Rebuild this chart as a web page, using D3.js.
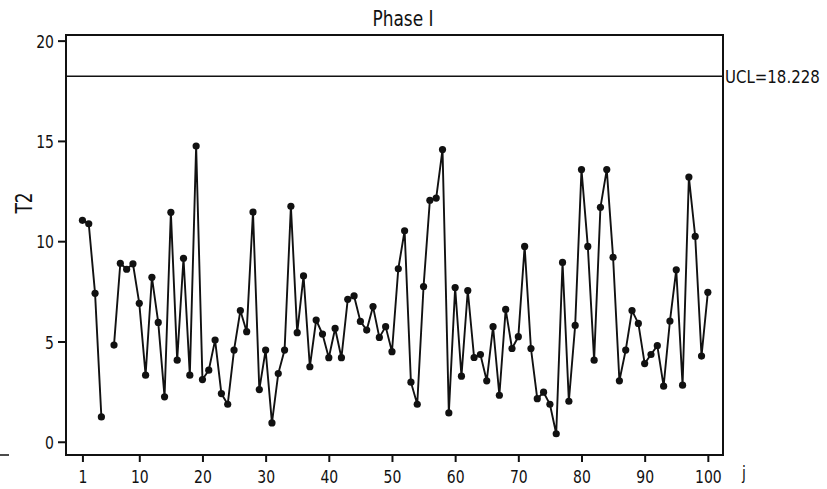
<!DOCTYPE html>
<html>
<head>
<meta charset="utf-8">
<script src="https://cdn.jsdelivr.net/npm/d3@7"></script>
<style>
    body { margin: 0; background: #fff; }
    text { font-family: "DejaVu Sans", Verdana, sans-serif; fill: #111; }
</style>
</head>
<body>
<script>
// observation number j
var obs = d3.range(1, 101);

// T2 statistic per observation (j=5 is missing in the chart)
var t2 = [11.04, 10.87, 7.40, 1.24, null, 4.82, 8.90, 8.60, 8.87, 6.90,
    3.32, 8.20, 5.95, 2.24, 11.44, 4.07, 9.15, 3.32, 14.74, 3.10,
    3.57, 5.07, 2.40, 1.87, 4.57, 6.54, 5.49, 11.45, 2.60, 4.57,
    0.94, 3.40, 4.57, 11.74, 5.44, 8.27, 3.74, 6.07, 5.37, 4.19,
    5.65, 4.19, 7.10, 7.27, 6.00, 5.57, 6.74, 5.20, 5.74, 4.49,
    8.62, 10.52, 2.97, 1.87, 7.74, 12.04, 12.15, 14.57, 1.44, 7.69,
    3.27, 7.54, 4.20, 4.35, 3.04, 5.74, 2.32, 6.60, 4.65, 5.24,
    9.74, 4.65, 2.15, 2.47, 1.87, 0.40, 8.94, 2.02, 5.80, 13.57,
    9.74, 4.07, 11.69, 13.57, 9.20, 3.04, 4.57, 6.54, 5.90, 3.90,
    4.35, 4.79, 2.77, 6.02, 8.57, 2.82, 13.20, 10.24, 4.27, 7.45];

// control limit
var ucl = 18.228;

// tick labels
var xTicks = [1, 10, 20, 30, 40, 50, 60, 70, 80, 90, 100];
var yTicks = [0, 5, 10, 15, 20];

function init() {
    var svg, g, xScale, yScale, xAxis, yAxis, line, dataset;

    //dimensions
    const margin = { top: 35, right: 104, bottom: 34, left: 66 };
    const width = 827 - margin.left - margin.right;
    const height = 489 - margin.top - margin.bottom;

    dataset = obs.map(function (j, i) { return { j: j, v: t2[i] }; });

    svg = d3.select("body")
        .append("svg")
        .attr("width", 827)
        .attr("height", 489);

    g = svg.append("g")
        .attr("transform", "translate(" + margin.left + "," + margin.top + ")");

    //scales
    xScale = d3.scaleLinear()
        .domain([-1.6, 102.4])
        .range([0, width]);

    yScale = d3.scaleLinear()
        .domain([-0.66, 20.28])
        .range([height, 0]);

    //x axis
    xAxis = d3.axisBottom(xScale)
        .tickValues(xTicks)
        .tickSize(7)
        .tickSizeOuter(0);

    var gx = g.append("g")
        .attr("transform", "translate(0," + height + ")")
        .call(xAxis);
    gx.select(".domain").remove();
    gx.selectAll(".tick line").attr("stroke", "#111").attr("stroke-width", 2);
    gx.selectAll(".tick text")
        .attr("dy", null)
        .attr("y", 28 / 1.3)
        .attr("transform", "scale(1,1.3)")
        .style("font-size", "14px");

    //y axis
    yAxis = d3.axisLeft(yScale)
        .tickValues(yTicks)
        .tickSize(8)
        .tickSizeOuter(0);

    var gy = g.append("g").call(yAxis);
    gy.select(".domain").remove();
    gy.selectAll(".tick line").attr("stroke", "#111").attr("stroke-width", 2);
    gy.selectAll(".tick text")
        .attr("dy", null)
        .attr("x", -12)
        .attr("y", 6.6 / 1.3)
        .attr("transform", "scale(1,1.3)")
        .style("font-size", "14px");

    //plot frame
    g.append("rect")
        .attr("x", 0)
        .attr("y", 0)
        .attr("width", width)
        .attr("height", height)
        .attr("fill", "none")
        .attr("stroke", "#111")
        .attr("stroke-width", 2);

    //small stub at the far left
    svg.append("line")
        .attr("x1", 0)
        .attr("x2", 9)
        .attr("y1", margin.top + height)
        .attr("y2", margin.top + height)
        .attr("stroke", "#111")
        .attr("stroke-width", 1.5);

    //UCL line
    g.append("line")
        .attr("x1", 0)
        .attr("x2", width)
        .attr("y1", yScale(ucl))
        .attr("y2", yScale(ucl))
        .attr("stroke", "#111")
        .attr("stroke-width", 1.5);

    g.append("text")
        .attr("transform", "translate(" + (width + 2) + "," + (yScale(ucl) + 7) + ") scale(1,1.2)")
        .style("font-size", "15px")
        .text("UCL=" + ucl);

    //data line
    line = d3.line()
        .defined(function (d) { return d.v !== null; })
        .x(function (d) { return xScale(d.j); })
        .y(function (d) { return yScale(d.v); });

    g.append("path")
        .datum(dataset)
        .attr("d", line)
        .attr("fill", "none")
        .attr("stroke", "#111")
        .attr("stroke-width", 1.9);

    g.selectAll(".pt")
        .data(dataset.filter(function (d) { return d.v !== null; }))
        .enter()
        .append("circle")
        .attr("class", "pt")
        .attr("cx", function (d) { return xScale(d.j); })
        .attr("cy", function (d) { return yScale(d.v); })
        .attr("r", 3.6)
        .attr("fill", "#111");

    //title
    svg.append("text")
        .attr("transform", "translate(403,26) scale(1,1.2)")
        .attr("text-anchor", "middle")
        .style("font-size", "17px")
        .text("Phase I");

    //axis titles
    svg.append("text")
        .attr("transform", "translate(32,203) rotate(-90) scale(1,1.3)")
        .attr("text-anchor", "middle")
        .style("font-size", "17px")
        .text("T2");

    svg.append("text")
        .attr("transform", "translate(742,479) scale(1,1.3)")
        .style("font-size", "14px")
        .text("j");
}

window.onload = init;
</script>
</body>
</html>
